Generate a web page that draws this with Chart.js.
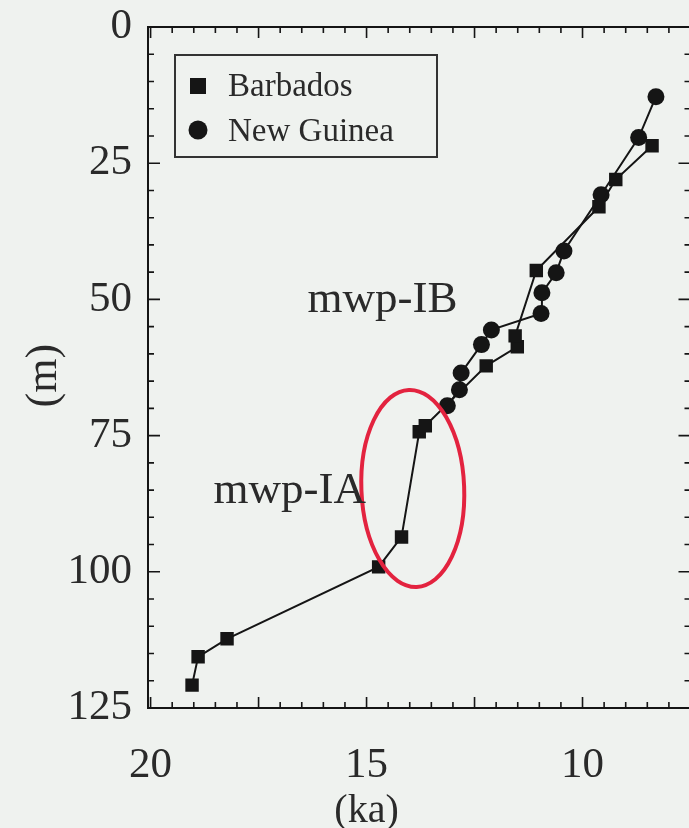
<!DOCTYPE html>
<html>
<head>
<meta charset="utf-8">
<script src="https://cdn.jsdelivr.net/npm/chart.js@4.4.1/dist/chart.umd.min.js"></script>
<style>
  html, body { margin: 0; padding: 0; background: #eff2ef; overflow: hidden; }
  canvas { display: block; }
</style>
</head>
<body>
<canvas id="sealevel" width="700" height="828"></canvas>
<script>
// ages (ka) and depths (m)
const barbadosAge   = [19.04, 18.90, 18.23, 14.72, 14.19, 13.78, 13.64, 12.23, 11.51, 11.56, 11.07, 9.62, 9.23, 8.39];
const barbadosDepth = [120.8, 115.6, 112.3, 99.1, 93.6, 74.3, 73.2, 62.2, 58.7, 56.7, 44.7, 33.0, 28.0, 21.8];
const guineaAge     = [13.13, 12.85, 12.81, 12.34, 12.11, 10.96, 10.94, 10.61, 10.43, 9.57, 8.70, 8.30];
const guineaDepth   = [69.5, 66.6, 63.5, 58.3, 55.6, 52.6, 48.8, 45.1, 41.1, 30.8, 20.3, 12.8];

const xTickLabels = [20, 15, 10];
const yTickLabels = [0, 25, 50, 75, 100, 125];

// text labels placed in data units
const labelNames = ['mwp-IB', 'mwp-IA'];
const labelAge   = [14.63, 16.78];
const labelDepth = [52.3, 87.3];

// highlighted pulse (ellipse) in data units
const ringCenter = [13.93, 84.7];
const ringRadius = [1.19, 18.1];

const serif = "'Liberation Serif', 'Times New Roman', serif";
const ink = '#151515';

function toPoints(xs, ys) {
    return xs.map((x, i) => ({ x: x, y: ys[i] }));
}

// frame, inward ticks, legend box, annotations
const decorations = {
    id: 'decorations',
    afterDatasetsDraw(chart) {
        const ctx = chart.ctx;
        const a = chart.chartArea;
        const xs = chart.scales.x;
        const ys = chart.scales.y;
        ctx.save();
        ctx.strokeStyle = ink;
        ctx.lineWidth = 2;
        ctx.strokeRect(a.left, a.top, a.right - a.left, a.bottom - a.top);

        ctx.lineWidth = 1.6;
        ctx.beginPath();
        for (let m = 0; m <= 125; m += 5) {
            const py = ys.getPixelForValue(m);
            const len = m % 25 === 0 ? 12 : 6;
            ctx.moveTo(a.left, py); ctx.lineTo(a.left + len, py);
            ctx.moveTo(a.right, py); ctx.lineTo(a.right - len, py);
        }
        for (let k = 15; k <= 40; k++) {
            const v = k / 2;
            const px = xs.getPixelForValue(v);
            const len = k % 5 === 0 ? 11 : 6;
            ctx.moveTo(px, a.bottom); ctx.lineTo(px, a.bottom - len);
            ctx.moveTo(px, a.top); ctx.lineTo(px, a.top + len);
        }
        ctx.stroke();

        // red ellipse
        const cx = xs.getPixelForValue(ringCenter[0]);
        const cy = ys.getPixelForValue(ringCenter[1]);
        const rx = Math.abs(xs.getPixelForValue(ringCenter[0] - ringRadius[0]) - cx);
        const ry = Math.abs(ys.getPixelForValue(ringCenter[1] + ringRadius[1]) - cy);
        ctx.strokeStyle = '#e3233f';
        ctx.lineWidth = 4;
        ctx.beginPath();
        ctx.ellipse(cx, cy, rx, ry, -0.04, 0, Math.PI * 2);
        ctx.stroke();

        // mwp labels
        ctx.fillStyle = '#2a2a2a';
        ctx.font = '45px ' + serif;
        ctx.textAlign = 'center';
        ctx.textBaseline = 'alphabetic';
        labelNames.forEach((t, i) => {
            ctx.fillText(t, xs.getPixelForValue(labelAge[i]), ys.getPixelForValue(labelDepth[i]));
        });

        // axis titles
        ctx.font = '40px ' + serif;
        ctx.fillText('(ka)', xs.getPixelForValue(15), 822);
        ctx.font = '44px ' + serif;
        ctx.save();
        ctx.translate(56, ys.getPixelForValue(64));
        ctx.rotate(-Math.PI / 2);
        ctx.fillText('(m)', 0, 0);
        ctx.restore();

        // legend
        ctx.strokeStyle = '#333';
        ctx.lineWidth = 2;
        ctx.strokeRect(175, 55, 262, 102);
        ctx.fillStyle = ink;
        ctx.fillRect(190, 78, 16, 16);
        ctx.beginPath();
        ctx.arc(198, 130, 9.5, 0, Math.PI * 2);
        ctx.fill();
        ctx.fillStyle = '#2a2a2a';
        ctx.font = '33px ' + serif;
        ctx.textAlign = 'left';
        ctx.fillText('Barbados', 228, 96);
        ctx.fillText('New Guinea', 228, 141);
        ctx.restore();
    }
};

new Chart(document.getElementById('sealevel'), {
    type: 'scatter',
    data: {
        datasets: [
            {
                label: 'Barbados',
                data: toPoints(barbadosAge, barbadosDepth),
                showLine: true,
                borderColor: ink,
                borderWidth: 2,
                backgroundColor: ink,
                pointStyle: 'rect',
                pointRadius: 9.5,
                pointBorderWidth: 0
            },
            {
                label: 'New Guinea',
                data: toPoints(guineaAge, guineaDepth),
                showLine: true,
                borderColor: ink,
                borderWidth: 2,
                backgroundColor: ink,
                pointStyle: 'circle',
                pointRadius: 8.5,
                pointBorderWidth: 0
            }
        ]
    },
    options: {
        responsive: false,
        animation: false,
        layout: { padding: { top: 27, right: 8, left: 0, bottom: 0 } },
        plugins: {
            legend: { display: false },
            tooltip: { enabled: false }
        },
        scales: {
            x: {
                type: 'linear',
                reverse: true,
                min: 7.5,
                max: 20.06,
                grid: { display: false },
                border: { display: false },
                afterBuildTicks: (scale) => {
                    scale.ticks = xTickLabels.map(v => ({ value: v }));
                },
                afterFit: (scale) => {
                    scale.height = 120;
                    scale.paddingLeft = 0;
                    scale.paddingRight = 0;
                },
                ticks: {
                    padding: 24,
                    color: '#2a2a2a',
                    font: { family: serif, size: 43 },
                    maxRotation: 0
                }
            },
            y: {
                type: 'linear',
                reverse: true,
                min: 0,
                max: 125,
                grid: { display: false },
                border: { display: false },
                afterBuildTicks: (scale) => {
                    scale.ticks = yTickLabels.map(v => ({ value: v }));
                },
                afterFit: (scale) => {
                    scale.width = 148;
                    scale.paddingTop = 0;
                    scale.paddingBottom = 0;
                },
                ticks: {
                    padding: 8,
                    color: '#2a2a2a',
                    font: { family: serif, size: 43 }
                }
            }
        }
    },
    plugins: [decorations]
});
</script>
</body>
</html>
